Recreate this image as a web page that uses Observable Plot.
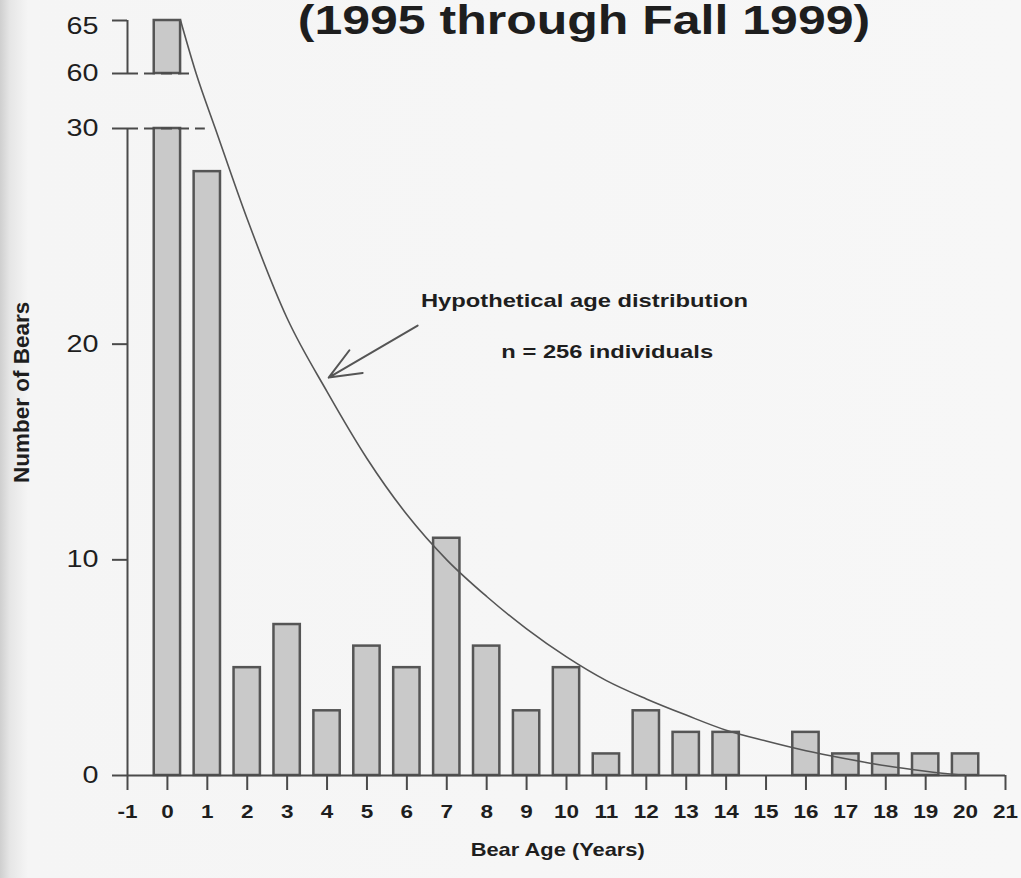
<!DOCTYPE html>
<html>
<head>
<meta charset="utf-8">
<script src="https://cdn.jsdelivr.net/npm/d3@7"></script>
<script src="https://cdn.jsdelivr.net/npm/@observablehq/plot@0.6"></script>
<style>
  html, body { margin: 0; padding: 0; }
  body {
    width: 1021px; height: 878px; overflow: hidden; position: relative;
    background: linear-gradient(to right, #cfcfcf 0px, #e6e6e6 10px, #f5f5f5 28px, #f7f7f7 100%);
    font-family: "Liberation Sans", Arial, sans-serif;
  }
  #title {
    position: absolute; left: 0; top: 0px; width: 1168px; text-align: center;
    font: bold 40px/40px "Liberation Sans", Arial, sans-serif; color: #1e1e1e;
    transform: scaleX(1.25); transform-origin: 584px 0; white-space: nowrap;
  }
  #chart { position: absolute; left: 0; top: 0; }
</style>
</head>
<body>
<div id="chart"></div>
<div id="title">(1995 through Fall 1999)</div>
<script>
// ---- data ----
const ages   = [0, 1, 2, 3, 4, 5, 6, 7, 8, 9, 10, 11, 12, 13, 14, 15, 16, 17, 18, 19, 20];
const counts = [65, 28, 5, 7, 3, 6, 5, 11, 6, 3, 5, 1, 3, 2, 2, 0, 2, 1, 1, 1, 1];

// hypothetical age distribution curve
const curveAges   = [0.33, 0.72, 1.20, 2,    3,    4,    5,    6,    7,    8,   9,   10,  11,  12,   13,  14,  15,  16,   17,   18,   19,  20];
const curveValues = [65,   60,   30,   25.8, 21.2, 17.8, 14.7, 12.1, 10.0, 8.3, 6.8, 5.5, 4.4, 3.55, 2.8, 2.1, 1.6, 1.15, 0.78, 0.45, 0.2, 0.0];

const xTicks = d3.range(-1, 22);
const yTicks = [0, 10, 20, 30, 60, 65];
const yBreak = [30, 60];      // axis break: lower part ends at 30, upper part starts at 60
const yTop = 65;

const title = "(1995 through Fall 1999)";
const xLabel = "Bear Age (Years)";
const yLabel = "Number of Bears";
const note1 = "Hypothetical age distribution";
const note2 = "n = 256 individuals";

// ---- broken-axis mapping: value -> display units of the linear y scale ----
const gap = 2.55;          // height of the break, in lower-part units
const upperRatio = 0.4915; // the upper part is drawn at about half the lower part's scale
const yd = v => v <= yBreak[0] ? v
  : v >= yBreak[1] ? yBreak[0] + gap + (v - yBreak[1]) * upperRatio
  : yBreak[0] + (v - yBreak[0]) / (yBreak[1] - yBreak[0]) * gap;

// ---- derived tables ----
const bars = [];
ages.forEach((a, i) => {
  const c = counts[i];
  if (c <= 0) return;
  if (c > yBreak[0]) {
    bars.push({age: a, y1: 0, y2: yBreak[0]});
    bars.push({age: a, y1: yBreak[1], y2: c});
  } else bars.push({age: a, y1: 0, y2: c});
});
const curve = curveAges.map((a, i) => ({age: a, v: curveValues[i]}));
const axisSegs = [{y1: 0, y2: yBreak[0]}, {y1: yBreak[1], y2: yTop}];
const dashed = [{y: yBreak[0], x2: 0.95}, {y: yBreak[1], x2: 0.7}];
const xMin = xTicks[0], xMax = xTicks[xTicks.length - 1];
const yTickPos = yTicks.map(yd);

const ink = "#4a4a4a";
const txt = "#1e1e1e";
const yLabelStyle = {x: () => xMin, y: d => yd(d), dx: -29, textAnchor: "end", text: d => String(d), fontSize: 23, fill: txt};
const chart = Plot.plot({
  width: 1021,
  height: 878,
  marginLeft: 127,
  marginRight: 16,
  marginTop: 20,
  marginBottom: 103,
  style: {background: "transparent", fontFamily: "'Liberation Sans', Arial, sans-serif", color: txt, overflow: "visible"},
  x: {domain: [xMin, xMax], axis: null},
  y: {domain: [0, yd(yTop)], axis: null},
  marks: [
    // bars
    Plot.rect(bars, {x1: d => d.age - 0.33, x2: d => d.age + 0.33, y1: d => yd(d.y1), y2: d => yd(d.y2),
      fill: "#c9c9c9", stroke: "#555", strokeWidth: 2.5}),
    // dashed break lines
    Plot.ruleY(dashed, {y: d => yd(d.y), x1: () => xMin, x2: "x2", stroke: ink, strokeWidth: 2, strokeDasharray: "11,6"}),
    // y axis line (broken)
    Plot.ruleX(axisSegs, {x: () => xMin, y1: d => yd(d.y1), y2: d => yd(d.y2), stroke: ink, strokeWidth: 2}),
    // x axis line
    Plot.ruleY([0], {x1: xMin, x2: xMax, stroke: ink, strokeWidth: 2}),
    // axes: ticks and labels
    Plot.axisY({ticks: yTickPos, tickSize: 15, stroke: ink, strokeWidth: 2, tickFormat: () => ""}),
    Plot.text(yTicks.filter(d => d !== yTop), yLabelStyle),
    Plot.text([yTop], {...yLabelStyle, dy: 6}),
    Plot.axisX({ticks: xTicks, tickSize: 15, stroke: ink, strokeWidth: 2, tickFormat: () => ""}),
    Plot.text(xTicks, {x: d => d, y: 0, dy: 37, text: d => String(d), fontSize: 18, fontWeight: "bold", fill: txt}),
    // curve
    Plot.line(curve, {x: "age", y: d => yd(d.v), curve: "monotone-x", stroke: "#555", strokeWidth: 1.6}),
    // arrow
    Plot.arrow([{x1: 6.27, y1: 20.86, x2: 4.04, y2: 18.45}], {x1: "x1", y1: "y1", x2: "x2", y2: "y2",
      stroke: "#555", strokeWidth: 2, headLength: 26, headAngle: 45}),
    // annotations
    Plot.text([note1], {x: 10.45, y: 22.0, text: d => d, fontSize: 19, fontWeight: "bold", fill: txt}),
    Plot.text([note2], {x: 11.02, y: 19.66, text: d => d, fontSize: 19, fontWeight: "bold", fill: txt}),
    // axis titles
    Plot.text([xLabel], {x: 9.78, y: -3.48, text: d => d, fontSize: 17.5, fontWeight: "bold", fill: txt}),
    Plot.text([yLabel], {x: -3.64, y: 17.76, text: d => d, fontSize: 22.5, fontWeight: "bold", rotate: -90, fill: txt})
  ]
});
document.getElementById("chart").appendChild(chart);

// the scanned original is stretched horizontally: widen horizontal text to match
chart.querySelectorAll("text").forEach(t => {
  const tr = t.getAttribute("transform");
  if (tr && tr.includes("rotate")) return;
  if (tr) t.setAttribute("transform", tr + " scale(1.25,1)");
  else {
    const x = +(t.getAttribute("x") || 0), y = +(t.getAttribute("y") || 0);
    t.setAttribute("transform", `translate(${x},${y}) scale(1.25,1) translate(${-x},${-y})`);
  }
});
</script>
</body>
</html>
